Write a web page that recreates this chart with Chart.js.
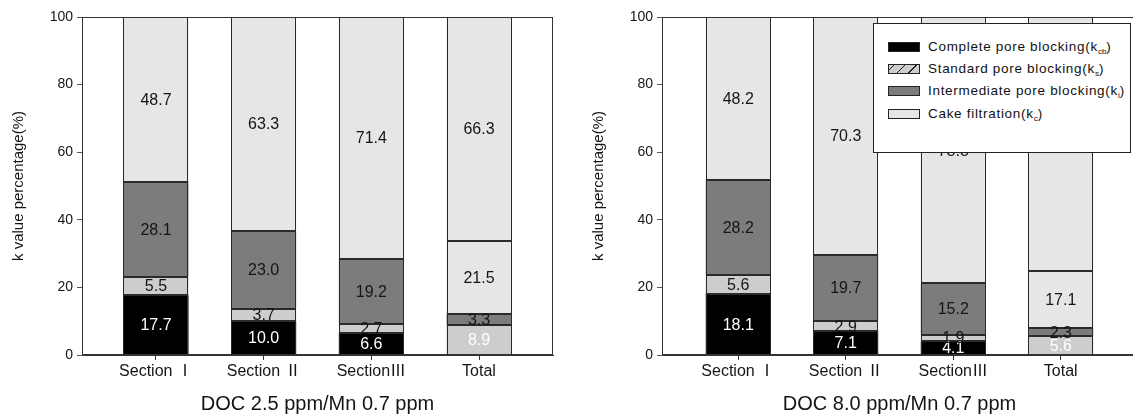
<!DOCTYPE html>
<html><head><meta charset="utf-8">
<script src="https://cdn.jsdelivr.net/npm/chart.js@4.4.0/dist/chart.umd.min.js"></script>
<style>
@font-face{font-family:"RomanCJK";src:local("Noto Sans CJK KR"),local("Noto Sans CJK KR Regular"),local("NotoSansCJKkr-Regular"),local("Noto Sans CJK SC"),local("Noto Sans CJK SC Regular"),local("NotoSansCJKsc-Regular");unicode-range:U+2160-216F;}
html,body{margin:0;padding:0;background:#fff;overflow:hidden;width:1133px;height:417px;}
#wrap{position:relative;width:1133px;height:417px;overflow:hidden;}
#c1{position:absolute;left:0;top:0;}
#c2{position:absolute;left:560px;top:0;}
#legend{position:absolute;left:873px;top:23px;width:256px;height:128px;border:1px solid #222;background:#fff;font-family:"Liberation Sans",Arial,sans-serif;font-size:13.5px;color:#111;letter-spacing:0.7px;}
.row{position:absolute;left:14px;height:16px;line-height:16px;width:240px;}
.sw{position:absolute;left:0;top:3px;width:30px;height:8px;border:1px solid #222;}
.tx{position:absolute;left:40px;top:0;white-space:nowrap;}
sub{font-size:8px;letter-spacing:0;vertical-align:-3px;line-height:0;}
</style></head>
<body>
<div id="wrap">
<canvas id="c1" width="560" height="417"></canvas>
<canvas id="c2" width="580" height="417"></canvas>
<div id="legend"></div>
</div>
<script>
// ---------- data ----------
const categories = ['Section Ⅰ', 'Section Ⅱ', 'SectionⅢ', 'Total'];
const seriesNames = ['Complete pore blocking', 'Standard pore blocking', 'Intermediate pore blocking', 'Cake filtration'];
const seriesSubs = ['cb', 's', 'i', 'c'];
const yTickValues = [0, 20, 40, 60, 80, 100];
const yAxisTitle = 'k value percentage(%)';

// Panel 1: DOC 2.5 ppm / Mn 0.7 ppm
const titleA = 'DOC 2.5 ppm/Mn 0.7 ppm';
const aComplete     = [17.7, 10.0, 6.6, 8.9];
const aStandard     = [5.5, 3.7, 2.7, 3.3];
const aIntermediate = [28.1, 23.0, 19.2, 21.5];
const aCake         = [48.7, 63.3, 71.4, 66.3];

// Panel 2: DOC 8.0 ppm / Mn 0.7 ppm
const titleB = 'DOC 8.0 ppm/Mn 0.7 ppm';
const bComplete     = [18.1, 7.1, 4.1, 5.6];
const bStandard     = [5.6, 2.9, 1.9, 2.3];
const bIntermediate = [28.2, 19.7, 15.2, 17.1];
const bCake         = [48.2, 70.3, 78.8, 74.9];

// ---------- styles ----------
const BLACK = '#000000', LIGHT = '#cdcdcd', DARK = '#7c7c7c', PALE = '#e6e6e6';
const fills = [
  [BLACK, BLACK, BLACK, LIGHT],
  [LIGHT, LIGHT, LIGHT, DARK],
  [DARK, DARK, DARK, PALE],
  [PALE, PALE, PALE, PALE]
];
const labelColors = ['#ffffff', '#151515', '#151515', '#151515'];
const FONT = '"Liberation Sans", Arial, sans-serif';
const XFONT = 'RomanCJK, "Liberation Sans", Arial, sans-serif';
Chart.defaults.font.family = FONT;
Chart.defaults.color = '#151515';

// crisp outlines around every bar segment, taken from the bar elements
const outlinePlugin = {
  id: 'outline',
  afterDatasetsDraw(chart) {
    const { ctx, chartArea: a } = chart;
    ctx.save();
    ctx.beginPath();
    ctx.rect(a.left, a.top - 1, a.right - a.left, a.bottom - a.top + 1);
    ctx.clip();
    ctx.strokeStyle = '#2a2a2a';
    ctx.lineWidth = 1;
    chart.data.datasets.forEach((ds, d) => {
      chart.getDatasetMeta(d).data.forEach((bar) => {
        const p = bar.getProps(['x', 'y', 'base', 'width']);
        const l = Math.round(p.x - p.width / 2) + 0.5;
        const r = Math.round(p.x + p.width / 2) - 0.5;
        const t = Math.round(Math.min(p.y, p.base)) + 0.5;
        const b = Math.round(Math.max(p.y, p.base)) - 0.5;
        ctx.strokeRect(l, t, r - l, b - t);
      });
    });
    ctx.restore();
  }
};

const framePlugin = {
  id: 'frame',
  afterDatasetsDraw(chart) {
    const { ctx, chartArea: a } = chart;
    ctx.save();
    ctx.strokeStyle = '#333';
    ctx.lineWidth = 1;
    ctx.strokeRect(Math.round(a.left) + 0.5, Math.round(a.top) + 0.5,
                   Math.round(a.right - a.left) - 1, Math.round(a.bottom - a.top) - 1);
    ctx.restore();
  }
};

const valueLabels = {
  id: 'valueLabels',
  afterDatasetsDraw(chart) {
    const ctx = chart.ctx;
    ctx.save();
    ctx.font = '16px ' + FONT;
    ctx.textAlign = 'center';
    ctx.textBaseline = 'middle';
    chart.data.datasets.forEach((ds, d) => {
      const meta = chart.getDatasetMeta(d);
      meta.data.forEach((bar, i) => {
        const v = ds.data[i].y;
        ctx.fillStyle = labelColors[d];
        ctx.fillText(v.toFixed(1), bar.x, (bar.y + bar.base) / 2 + 1);
      });
    });
    ctx.restore();
  }
};

function makeChart(canvas, seriesList, title, lay) {
  const datasets = seriesList.map((vals, s) => ({
    label: seriesNames[s],
    data: vals.map((v, i) => ({ x: i, y: v })),
    backgroundColor: fills[s],
    borderWidth: 0,
    inflateAmount: 0,
    categoryPercentage: 1,
    barPercentage: 0.604
  }));
  return new Chart(canvas, {
    type: 'bar',
    data: { datasets },
    plugins: [outlinePlugin, framePlugin, valueLabels],
    options: {
      responsive: false,
      animation: false,
      events: [],
      layout: { padding: { top: 17, left: 0, right: lay.padRight, bottom: 0 } },
      plugins: { legend: { display: false }, tooltip: { enabled: false } },
      scales: {
        x: {
          type: 'linear',
          stacked: true,
          offset: false,
          min: lay.xmin, max: lay.xmax,
          afterBuildTicks: (ax) => { ax.ticks = categories.map((_, i) => ({ value: i })); },
          afterFit: (ax) => { ax.height = 62; },
          ticks: {
            callback: (v) => categories[v] ?? '',
            font: { size: 16, family: XFONT }, color: '#151515', padding: 2, maxRotation: 0, autoSkip: false
          },
          grid: { offset: false, drawOnChartArea: false, drawTicks: true, tickLength: 5, color: '#333' },
          border: { color: '#333' },
          title: { display: true, text: title, font: { size: 20 }, color: '#151515', padding: { top: 0, bottom: 1 } }
        },
        y: {
          stacked: true,
          min: 0, max: 100,
          afterBuildTicks: (ax) => { ax.ticks = yTickValues.map(v => ({ value: v })); },
          afterFit: (ax) => { ax.width = lay.axisW; },
          ticks: { font: { size: 14 }, color: '#151515', padding: 4 },
          grid: { drawOnChartArea: false, drawTicks: true, tickLength: 5, color: '#555' },
          border: { color: '#555' },
          title: { display: true, text: yAxisTitle, font: { size: 15 }, color: '#151515', padding: { top: lay.titlePad, bottom: 0 } }
        }
      }
    }
  });
}

function build() {
  makeChart(document.getElementById('c1'), [aComplete, aStandard, aIntermediate, aCake], titleA,
    { axisW: 82, padRight: 7, xmin: -0.687, xmax: 3.687, titlePad: 10 });
  makeChart(document.getElementById('c2'), [bComplete, bStandard, bIntermediate, bCake], titleB,
    { axisW: 102, padRight: 3, xmin: -0.709, xmax: 3.709, titlePad: 30 });
}

// legend (HTML overlay)
const swatchStyles = [
  'background:#000;',
  'background:repeating-linear-gradient(-45deg,#cdcdcd 0 7px,#222 7px 8px);',
  'background:#7c7c7c;',
  'background:#e6e6e6;'
];
const rowTops = [15, 37, 59, 82];
const leg = document.getElementById('legend');
seriesNames.forEach((n, i) => {
  const r = document.createElement('div');
  r.className = 'row';
  r.style.top = rowTops[i] + 'px';
  r.innerHTML = '<div class="sw" style="' + swatchStyles[i] + '"></div><div class="tx">' + n + '(k<sub>' + seriesSubs[i] + '</sub>)</div>';
  leg.appendChild(r);
});

let built = false;
function once() { if (!built) { built = true; build(); } }
try {
  document.fonts.load('16px RomanCJK', 'ⅠⅡⅢ').then(once, once);
  setTimeout(once, 800);
} catch (e) { once(); }
</script>
</body></html>
